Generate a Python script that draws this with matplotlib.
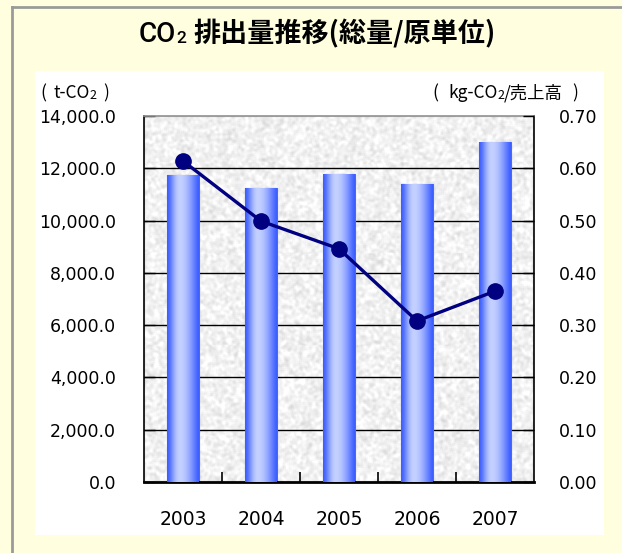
import numpy as np
import matplotlib
matplotlib.use("Agg")
import matplotlib.pyplot as plt
from matplotlib.patches import Rectangle
from matplotlib.lines import Line2D
from matplotlib.ticker import FuncFormatter

plt.rcParams['font.family'] = ['Noto Sans CJK JP', 'DejaVu Sans']

years = ['2003', '2004', '2005', '2006', '2007']
emissions = [11750, 11250, 11780, 11400, 13000]          # t-CO2
intensity = [0.614, 0.499, 0.446, 0.308, 0.365]           # kg-CO2 / sales

title_parts = ['CO', '2', '排出量推移(総量/原単位)']
left_unit_parts = ['(', 't-CO', '2', ')']
right_unit_parts = ['(', 'kg-CO', '2', '/売上高', ')']

W, H = 622, 553
fig = plt.figure(figsize=(W / 100, H / 100), dpi=100)
fig.patch.set_facecolor('#FFFFE0')
renderer = fig.canvas.get_renderer()

def fx(px):
    return px / W

def fy(py):
    return 1 - py / H

def draw_runs(x_px, y_px, runs, align='left'):
    """Draw consecutive text runs (text, size, dy_px, weight, family, gap_px) on one baseline."""
    widths = []
    for text, size, dy, weight, family, gap in runs:
        t = fig.text(0, 0, text, fontsize=size, fontweight=weight, family=family)
        widths.append(t.get_window_extent(renderer).width + gap)
        t.remove()
    total = sum(widths)
    if align == 'center':
        x_px -= total / 2
    elif align == 'right':
        x_px -= total
    cur = x_px
    for (text, size, dy, weight, family, gap), w in zip(runs, widths):
        fig.text(fx(cur), fy(y_px + dy), text, fontsize=size, fontweight=weight,
                 family=family, va='baseline', ha='left')
        cur += w

# white panel and frame lines
fig.patches.append(Rectangle((fx(35), fy(535)), fx(604) - fx(35), fy(71) - fy(535),
                             transform=fig.transFigure, facecolor='white',
                             edgecolor='none', zorder=-10))
fig.lines.append(Line2D([fx(12), fx(12)], [fy(7), fy(553)], transform=fig.transFigure,
                        color='#9A9A9A', lw=2, zorder=-5))
fig.lines.append(Line2D([fx(12), fx(622)], [fy(7), fy(7)], transform=fig.transFigure,
                        color='#9A9A9A', lw=2, zorder=-5))

cjk = ['Noto Sans CJK JP', 'DejaVu Sans']
draw_runs(317, 42, [
    (title_parts[0], 20, 0, 'medium', ['Roboto'], 0),
    (title_parts[1], 12.5, 1, 'medium', ['Roboto'], 7),
    (title_parts[2], 19.5, 0, 'bold', cjk, 0),
], align='center')

draw_runs(40, 98, [
    (left_unit_parts[0], 12.5, 0, 'normal', cjk, 7),
    (left_unit_parts[1], 12.5, 0, 'normal', cjk, 0),
    (left_unit_parts[2], 9, 1, 'normal', cjk, 7),
    (left_unit_parts[3], 12.5, 0, 'normal', cjk, 0),
])
draw_runs(578, 98, [
    (right_unit_parts[0], 12.5, 0, 'normal', cjk, 9),
    (right_unit_parts[1], 12.5, 0, 'normal', cjk, 0),
    (right_unit_parts[2], 9, 1, 'normal', cjk, 0),
    (right_unit_parts[3], 12.5, 0, 'normal', cjk, 9),
    (right_unit_parts[4], 12.5, 0, 'normal', cjk, 0),
], align='right')

ax = fig.add_axes([fx(144), fy(482), fx(534) - fx(144), fy(116) - fy(482)])
ax.set_xlim(-0.5, len(years) - 0.5)
ax.set_ylim(0, 14000)

# fine granite texture for the plot background
rng = np.random.default_rng(11)
noise = rng.random((370, 390))
k = np.ones(3) / 3
for _ in range(2):
    noise = np.apply_along_axis(lambda r: np.convolve(r, k, mode='same'), 1, noise)
    noise = np.apply_along_axis(lambda c: np.convolve(c, k, mode='same'), 0, noise)
noise = (noise - noise.mean()) / noise.std()
tex = np.clip(0.945 + 0.03 * noise, 0.82, 1.0)
ax.imshow(tex, cmap='gray', vmin=0, vmax=1, extent=(-0.5, len(years) - 0.5, 0, 14000),
          aspect='auto', zorder=0, interpolation='nearest')

# horizontal grid
for yv in range(2000, 14000, 2000):
    ax.axhline(yv, color='black', lw=1, zorder=1)

# bars with cylindrical shading
x = np.arange(len(years))
bars = ax.bar(x, emissions, width=0.4, color='#6F8BFF', edgecolor='#4A66FF',
              lw=0.8, zorder=2)
t = np.linspace(0, 1, 64)
shade = np.where(t < 0.4, np.sin(np.clip(t / 0.4, 0, 1) * np.pi / 2) ** 1.5,
                 np.cos(np.clip((t - 0.4) / 0.6, 0, 1) * np.pi / 2) ** 1.2)
edge = np.array([0x3C, 0x5E, 0xFF]) / 255
light = np.array([0xC4, 0xD0, 0xFF]) / 255
grad = edge[None, :] + (light - edge)[None, :] * shade[:, None]
grad = grad[None, :, :]
for b in bars:
    x0, w, h = b.get_x(), b.get_width(), b.get_height()
    im = ax.imshow(grad, extent=(x0, x0 + w, 0, h), aspect='auto', zorder=3,
                   interpolation='bilinear')
    im.set_clip_path(b)
ax.set_xlim(-0.5, len(years) - 0.5)
ax.set_ylim(0, 14000)

num_font = 'DejaVu Sans'
ax.yaxis.set_major_formatter(FuncFormatter(lambda v, p: f'{v:,.1f}'))
ax.set_yticks(np.arange(0, 14001, 2000))
ax.set_xticks(x)
ax.set_xticklabels(years)
ax.set_xticks(np.arange(0.5, len(years) - 0.5, 1), minor=True)
ax.tick_params(axis='x', which='major', length=0, pad=20, labelsize=13.5)
ax.tick_params(axis='x', which='minor', direction='in', length=7, width=1.2)
ax.tick_params(axis='y', direction='in', length=8, width=1, labelsize=12.5, pad=20)
for lab in ax.get_xticklabels() + ax.get_yticklabels():
    lab.set_family(num_font)

for s in ['left', 'right']:
    ax.spines[s].set_linewidth(1.2)
ax.spines['bottom'].set_linewidth(2)
ax.spines['top'].set_color('#909090')
ax.spines['top'].set_linewidth(1.2)

ax2 = ax.twinx()
ax2.set_ylim(0, 0.7)
ax2.set_yticks(np.arange(0, 0.701, 0.1))
ax2.yaxis.set_major_formatter(FuncFormatter(lambda v, p: f'{v:.2f}'))
ax2.tick_params(axis='y', direction='in', length=8, width=1, labelsize=12.5, pad=18)
for lab in ax2.get_yticklabels():
    lab.set_family(num_font)
ax2.plot(x, intensity, color='#000080', lw=2.4, marker='o', markersize=11,
         zorder=5)
for s in ax2.spines.values():
    s.set_visible(False)

fig.savefig('out.png', dpi=100, facecolor=fig.get_facecolor())
